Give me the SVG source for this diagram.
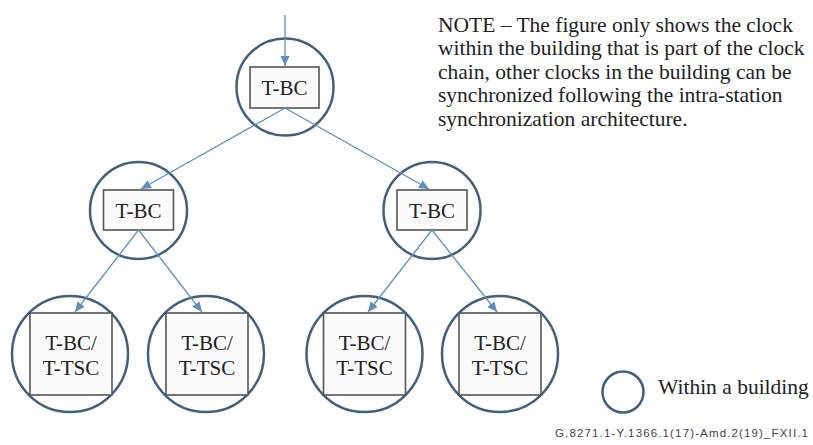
<svg xmlns="http://www.w3.org/2000/svg" width="813" height="445" viewBox="0 0 813 445">
<defs>
<style>
.bld{fill:none;stroke:#41607f;stroke-width:2.5}
.box{fill:#fbfbfb;stroke:#555;stroke-width:1.6}
.lbl{font-family:"Liberation Serif","Times New Roman",serif;font-size:21px;fill:#222;text-anchor:middle}
.note{font-family:"Liberation Serif","Times New Roman",serif;font-size:21.5px;fill:#222}
.conn{stroke:#5f8fbb;stroke-width:1.3;fill:none;marker-end:url(#ah)}
.foot{font-family:"Liberation Sans",Arial,sans-serif;font-size:11.5px;fill:#444}
</style>
<marker id="ah" markerUnits="userSpaceOnUse" markerWidth="12" markerHeight="10" refX="10" refY="4.5" orient="auto">
<path d="M0,0 L10,4.5 L0,9 z" fill="#5f8fbb"/>
</marker>
</defs>
<rect width="813" height="445" fill="#fff"/>
<g id="top">
<circle class="bld" cx="285" cy="87" r="48.5"/>
<rect class="box" x="250" y="67" width="69" height="41"/>
<text class="lbl" x="284.5" y="94.5">T-BC</text>
</g>
<g id="mid-left">
<circle class="bld" cx="138.5" cy="210.5" r="48.5"/>
<rect class="box" x="103.5" y="190" width="70" height="40"/>
<text class="lbl" x="138.5" y="217.5">T-BC</text>
</g>
<g id="mid-right">
<circle class="bld" cx="432" cy="210.5" r="48.5"/>
<rect class="box" x="397" y="190" width="70" height="40"/>
<text class="lbl" x="432" y="217.5">T-BC</text>
</g>
<g id="leaf1">
<circle class="bld" cx="70" cy="354" r="58"/>
<rect class="box" x="30" y="313" width="82" height="82"/>
<text class="lbl" x="71" y="350">T-BC/</text>
<text class="lbl" x="71" y="375">T-TSC</text>
</g>
<g id="leaf2">
<circle class="bld" cx="206" cy="354" r="58"/>
<rect class="box" x="166" y="313" width="82" height="82"/>
<text class="lbl" x="207" y="350">T-BC/</text>
<text class="lbl" x="207" y="375">T-TSC</text>
</g>
<g id="leaf3">
<circle class="bld" cx="364.5" cy="354" r="58"/>
<rect class="box" x="323.5" y="313" width="82" height="82"/>
<text class="lbl" x="364.5" y="350">T-BC/</text>
<text class="lbl" x="364.5" y="375">T-TSC</text>
</g>
<g id="leaf4">
<circle class="bld" cx="500" cy="354" r="58"/>
<rect class="box" x="459" y="313" width="82" height="82"/>
<text class="lbl" x="500" y="350">T-BC/</text>
<text class="lbl" x="500" y="375">T-TSC</text>
</g>
<g id="connectors">
<line class="conn" x1="285" y1="15" x2="285" y2="66"/>
<line class="conn" x1="285" y1="108" x2="141" y2="189"/>
<line class="conn" x1="285" y1="108" x2="429" y2="189"/>
<line class="conn" x1="138.5" y1="230" x2="75" y2="312"/>
<line class="conn" x1="138.5" y1="230" x2="202" y2="312"/>
<line class="conn" x1="432" y1="230" x2="368" y2="312"/>
<line class="conn" x1="432" y1="230" x2="497" y2="312"/>
</g>
<g id="note">
<text class="note" x="438" y="31.5">NOTE – The figure only shows the clock</text>
<text class="note" x="438" y="55">within the building that is part of the clock</text>
<text class="note" x="438" y="78.5">chain, other clocks in the building can be</text>
<text class="note" x="438" y="102">synchronized following the intra-station</text>
<text class="note" x="438" y="125.5">synchronization architecture.</text>
</g>
<g id="legend">
<circle class="bld" cx="623" cy="392" r="20.5"/>
<text class="note" x="658" y="394">Within a building</text>
</g>
<text class="foot" x="555" y="437" textLength="253" lengthAdjust="spacing">G.8271.1-Y.1366.1(17)-Amd.2(19)_FXII.1</text>
</svg>
